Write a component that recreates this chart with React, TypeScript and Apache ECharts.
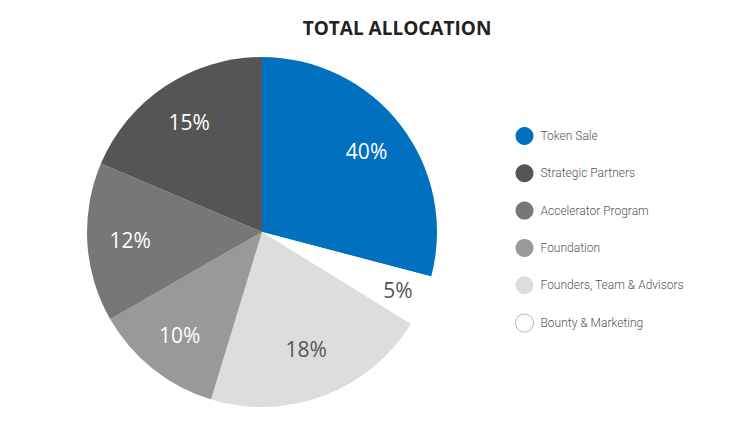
import { useEffect, useRef } from "react";
import * as echarts from "echarts";

// slices in clockwise order from the top
const sliceNames = [
  "Token Sale",
  "Bounty & Marketing",
  "Founders, Team & Advisors",
  "Foundation",
  "Accelerator Program",
  "Strategic Partners",
];
// shares as drawn in the picture (angles), labels as printed on it
const sliceShares = [29.1, 4.7, 20.9, 12.0, 14.7, 18.6];
const sliceLabels = ["40%", "5%", "18%", "10%", "12%", "15%"];
const sliceColors = ["#0070bf", "#ffffff", "#dddddd", "#999999", "#777777", "#555555"];
const labelColors = ["#fff", "#555", "#555", "#fff", "#fff", "#fff"];

const legendOrder = [
  "Token Sale",
  "Strategic Partners",
  "Accelerator Program",
  "Foundation",
  "Founders, Team & Advisors",
  "Bounty & Marketing",
];

const FONT = "'Open Sans', 'Noto Sans', sans-serif";
const LEGEND_FONT = "Roboto, 'Open Sans', sans-serif";
const CENTER = [262, 232];
const R = 175;

// transparent pie ring whose middle sits at labelR; shows only the given labels
function labelRing(labelR: number, which: number[]) {
  return {
    type: "pie",
    center: CENTER,
    radius: [2 * labelR - R, R],
    startAngle: 90,
    silent: true,
    itemStyle: { color: "transparent" },
    labelLine: { show: false },
    label: {
      show: true,
      position: "inside",
      fontFamily: FONT,
      fontSize: 21,
      formatter: (p: { dataIndex: number }) => sliceLabels[p.dataIndex],
    },
    data: sliceNames.map((name, i) => ({
      name,
      value: sliceShares[i],
      label: { show: which.includes(i), color: labelColors[i] },
    })),
  };
}

export default function App() {
  const chartRef = useRef<HTMLDivElement>(null);

  useEffect(() => {
    document.body.style.margin = "0";
    if (!chartRef.current) return;
    const chart = echarts.init(chartRef.current, undefined, { renderer: "svg" });

    chart.setOption({
      animation: false,
      title: {
        text: "TOTAL ALLOCATION",
        left: 392,
        textAlign: "center",
        top: 13,
        textStyle: {
          fontFamily: FONT,
          fontSize: 19,
          fontWeight: "bold",
          color: "#222",
        },
      },
      legend: {
        orient: "vertical",
        left: 510,
        top: 122,
        icon: "circle",
        itemWidth: 22,
        itemHeight: 18,
        itemGap: 19.3,
        selectedMode: false,
        textStyle: { fontFamily: LEGEND_FONT, fontSize: 12, fontWeight: 300, color: "#555" },
        data: legendOrder.map((name) =>
          name === "Bounty & Marketing"
            ? {
                name,
                itemStyle: { color: "#fff", borderColor: "#b5b5b5", borderWidth: 1 },
              }
            : { name }
        ),
      },
      series: [
        {
          type: "pie",
          center: CENTER,
          radius: [0, R],
          startAngle: 90,
          silent: true,
          label: { show: false },
          labelLine: { show: false },
          data: sliceNames.map((name, i) => ({
            name,
            value: sliceShares[i],
            itemStyle: { color: sliceColors[i] },
          })),
        },
        labelRing(129, [0, 3, 4, 5]),
        labelRing(145, [1]),
        labelRing(122, [2]),
      ],
    });

    return () => chart.dispose();
  }, []);

  return <div ref={chartRef} style={{ width: "754px", height: "432px" }} />;
}
